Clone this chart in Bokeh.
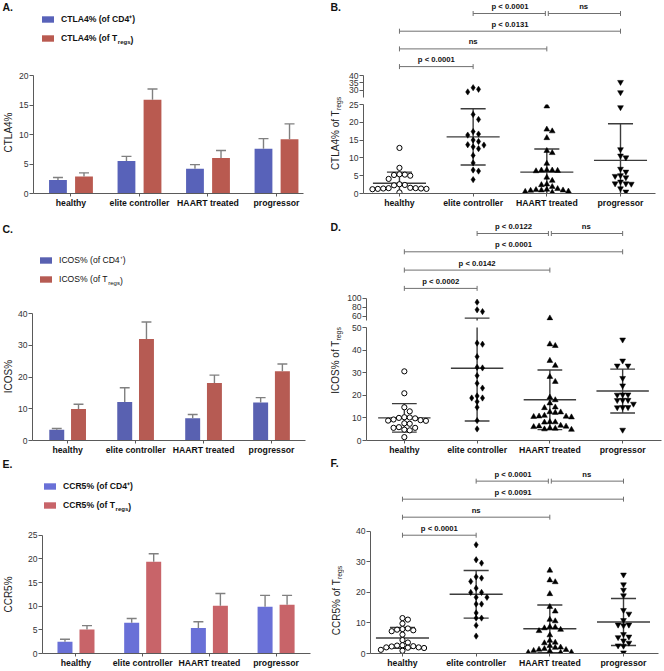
import math
from bokeh.plotting import figure
from bokeh.layouts import row, column
from bokeh.models import Range1d, FixedTicker, Legend, LegendItem, Label, ColumnDataSource
from bokeh.transform import dodge
from bokeh.core.properties import value
from bokeh.embed import file_html
from bokeh.resources import INLINE

FONT = "Liberation Sans"

groups = ["healthy", "elite controller", "HAART treated", "progressor"]

# ---------- Panel A: CTLA4 bars ----------
ctla4_cd4 = [2.3, 5.5, 4.2, 7.6]
ctla4_cd4_err = [0.4, 0.8, 0.7, 1.7]
ctla4_treg = [2.9, 15.9, 6.0, 9.2]
ctla4_treg_err = [0.6, 1.8, 1.3, 2.6]
ctla4_ticks = [0, 5, 10, 15, 20]

# ---------- Panel C: ICOS bars ----------
icos_cd4 = [3.4, 12.1, 7.0, 12.0]
icos_cd4_err = [0.4, 4.5, 1.2, 1.5]
icos_treg = [9.9, 32.0, 18.1, 21.8]
icos_treg_err = [1.5, 5.3, 2.5, 2.3]
icos_ticks = [0, 10, 20, 30, 40]

# ---------- Panel E: CCR5 bars ----------
ccr5_cd4 = [2.5, 6.5, 5.4, 9.9]
ccr5_cd4_err = [0.5, 0.9, 1.3, 2.4]
ccr5_treg = [5.1, 19.4, 10.1, 10.3]
ccr5_treg_err = [0.8, 1.7, 2.6, 2.0]
ccr5_ticks = [0, 5, 10, 15, 20, 25]

# ---------- Panel B: CTLA4% of Tregs, individual values ----------
b_healthy = [12.8, 7.2, 5.3, 5.0, 5.2, 5.4, 4.1, 2.6, 2.4, 2.3, 1.6, 1.4, 1.5,
             1.3, 1.4, 1.5, 1.2, 1.3, 0.3]
b_elite = [31.7, 30.6, 28.8, 22.2, 20.8, 17.4, 16.7, 16.4, 15.0, 14.6, 13.6, 13.1,
           13.7, 12.6, 10.7, 8.6, 6.6, 6.3, 3.9]
b_haart = [24.5, 18.0, 17.5, 15.6, 12.0, 11.4, 8.4, 6.6, 6.5, 6.4, 6.3, 6.5, 4.5, 3.6,
           2.6, 2.4, 1.9, 1.3, 1.1, 1.0, 0.9, 0.9, 0.8, 0.6, 0.5, 0.3]
b_prog = [35.5, 28.5, 24.2, 12.4, 10.6, 10.1, 6.9, 6.1, 5.1, 4.9, 4.5, 3.3, 2.8, 2.8,
          2.7, 1.4, 0.5]
b_mean = [2.9, 15.9, 6.0, 9.3]
b_sd = [3.1, 7.9, 6.5, 10.3]
b_ticks_low = [0, 5, 10, 15, 20, 25]
b_ticks_high = [30, 35, 40]
b_pvalues = ["p < 0.0001", "ns", "p < 0.0131", "ns", "p < 0.0001"]

# ---------- Panel D: ICOS% of Tregs ----------
d_healthy = [30.6, 20.9, 14.7, 12.9, 10.3, 10.2, 10.0, 9.8, 9.3, 9.0, 8.7, 8.8, 7.6,
             7.4, 5.9, 5.6, 5.6, 4.8, 4.5, 1.5]
d_elite = [91, 74, 70, 43.1, 42.6, 37.1, 32.4, 32.1, 28.7, 25.3, 23.2, 19.7, 18.8,
           18.8, 17.2, 14.7, 8.8, 5.1]
d_haart = [55, 42.6, 41.9, 35.3, 33.1, 28.2, 26.0, 19.1, 17.9, 16.5, 14.7, 14.4, 12.5,
           12.3, 12.6, 11.0, 10.3, 10.6, 10.5, 10.7, 8.1, 8.0, 8.2, 6.6, 6.3, 6.2, 6.0,
           5.5, 5.3, 5.0, 4.8]
d_prog = [44.6, 35.3, 33.1, 33.1, 27.6, 24.3, 20.3, 20.3, 20.2, 17.9, 17.9, 17.8, 16.2,
          14.7, 14.7, 14.6, 4.7]
d_mean = [10.0, 32.0, 18.0, 21.9]
d_sd = [6.3, 23.4, 13.2, 9.7]
d_ticks_low = [0, 10, 20, 30, 40, 50]
d_ticks_high = [60, 80, 100]
d_pvalues = ["p < 0.0122", "ns", "p < 0.0001", "p < 0.0142", "p < 0.0002"]

# ---------- Panel F: CCR5% of Tregs ----------
f_healthy = [11.6, 11.1, 9.8, 8.2, 8.0, 7.6, 7.3, 7.8, 6.2, 4.4, 3.6, 2.7, 2.6, 2.4,
             2.3, 2.0, 1.9, 1.8, 2.0, 1.2, 0.9]
f_elite = [35.6, 30.7, 29.6, 25.1, 24.7, 23.6, 21.4, 20.0, 20.0, 18.4, 18.4, 16.2, 16.2,
           13.3, 11.6, 11.6, 9.2, 5.7]
f_haart = [27.2, 24.0, 23.4, 19.5, 15.3, 13.8, 11.1, 10.6, 8.7, 8.6, 8.3, 7.8, 7.4, 6.0,
           4.2, 3.6, 3.4, 2.5, 2.0, 1.9, 1.5, 1.3, 1.2, 0.9, 0.8, 0.4, 0.3, 0.3]
f_prog = [25.8, 22.6, 20.8, 19.0, 14.2, 13.0, 10.9, 9.4, 9.4, 9.2, 6.3, 5.5, 5.3, 4.2,
          3.5, 2.6, 2.5, 0.3]
f_mean = [5.1, 19.4, 8.1, 10.3]
f_sd = [3.4, 7.8, 7.8, 7.7]
f_ticks = [0, 10, 20, 30, 40]
f_pvalues = ["p < 0.0001", "ns", "p < 0.0091", "ns", "p < 0.0001"]

# comparisons (group index pairs) and their bracket level (0 = top)
comparisons = [(1, 2), (2, 3), (0, 3), (0, 2), (0, 1)]
comparison_levels = [0, 0, 1, 2, 3]

# ---------- styles ----------
AXIS_COLOR = "#5a5a5a"
TICK_TEXT = "#333333"
ERR_COLOR = "#808080"
STAT_COLOR = "#3c3c3c"
BRACKET_COLOR = "#707070"
TICK_SIZE = 8.6
CAT_SIZE = 8.7
LEG_SIZE = 8.6

# Arial / Liberation Sans advance widths (per 1000 em)
W_REG = {'C': 722, 'T': 611, 'L': 556, 'A': 667, '4': 556, '%': 889, ' ': 278,
         'o': 556, 'f': 278, 'I': 278, 'O': 778, 'S': 667, 'R': 722, '5': 556,
         'r': 333, 'e': 556, 'g': 556, 's': 500, '(': 333, ')': 333}
W_BOLD = {'C': 722, 'T': 611, 'L': 611, 'A': 722, '4': 556, '%': 889, ' ': 278,
          'o': 611, 'f': 333, 'I': 278, 'O': 778, 'S': 667, 'R': 722, '5': 556,
          'r': 389, 'e': 556, 'g': 611, 's': 556, '(': 333, ')': 333}


def text_width(s, size, bold=False):
    tbl = W_BOLD if bold else W_REG
    return sum(tbl.get(ch, 556) for ch in s) * size / 1000.0


def new_fig(w, h, xr, yr, left, right, top, bottom, xaxis=True, yaxis=True):
    p = figure(width=w, height=h, x_range=xr, y_range=yr,
               min_border_left=left, min_border_right=right,
               min_border_top=top, min_border_bottom=bottom,
               x_axis_location="below" if xaxis else None,
               y_axis_location="left" if yaxis else None,
               output_backend="svg", toolbar_location=None)
    p.grid.visible = False
    p.outline_line_color = None
    return p


def style_axis(ax):
    ax.axis_line_color = AXIS_COLOR
    ax.axis_line_width = 1
    ax.major_tick_line_color = AXIS_COLOR
    ax.major_tick_in = 0
    ax.major_tick_out = 3
    ax.minor_tick_line_color = None
    ax.major_label_text_font = FONT
    ax.major_label_text_font_size = "%.1fpx" % TICK_SIZE
    ax.major_label_text_color = TICK_TEXT
    ax.major_label_standoff = 2


def cat_xaxis(p):
    ax = p.xaxis[0]
    style_axis(ax)
    ax.axis_label = None
    ax.ticker = FixedTicker(ticks=list(range(len(groups))), minor_ticks=[])
    ax.major_label_overrides = {i: g for i, g in enumerate(groups)}
    ax.major_label_text_font_style = "bold"
    ax.major_label_text_font_size = "%.1fpx" % CAT_SIZE
    ax.major_label_text_color = "#111111"
    ax.major_label_standoff = 1


def num_yaxis(ax, ticks, bounds):
    style_axis(ax)
    ax.major_tick_out = 4
    ax.major_label_standoff = 1
    ax.ticker = FixedTicker(ticks=ticks, minor_ticks=[])
    ax.bounds = bounds


def screen_label(text, x, y, size, bold=False, angle=0.0, align="left", color="#111111"):
    return Label(x=x, y=y, x_units="screen", y_units="screen", text=text, angle=angle,
                 text_font=FONT, text_font_size="%.1fpx" % size,
                 text_font_style="bold" if bold else "normal",
                 text_baseline="middle", text_align=align, text_color=color)


def label_fig(letter, main, sub, H, g, bb=0):
    """Narrow strip at the panel's left holding the panel letter and the y-axis title.
    bb = bottom border matching the neighbouring plot (frames are aligned in a row)."""
    lf = new_fig(14, H, Range1d(0, 1), Range1d(0, 1), 0, 0, 0, bb, xaxis=False, yaxis=False)
    fb = H - bb  # frame bottom measured from the top of the strip

    def ys(y_from_top):
        return fb - y_from_top

    lf.add_layout(screen_label(letter, g["let_x"], ys(g["let_y"]), 10.5, bold=True))
    ms, ss = 10.0, 6.8
    wm = text_width(main, ms)
    wsub = text_width(sub, ss) if sub else 0.0
    ystart = ys(g["lab_cy"] + (wm + wsub) / 2.0)
    lf.add_layout(screen_label(main, g["lab_x"], ystart, ms, angle=math.pi / 2, color="#222222"))
    if sub:
        lf.add_layout(screen_label(sub, g["lab_x"] + 3, ystart + wm, ss, angle=math.pi / 2,
                                   color="#222222"))
    return lf


def bar_panel(letter, ylabel, marker_name, cd4, cd4_err, treg, treg_err, ticks, colors, g):
    W, H = g["W"], g["H"]
    fl, fr, y0 = g["left"], g["right"], g["y0"]
    ppu = (y0 - g["ytop"]) / ticks[-1]
    ppx = (fr - fl) / (g["x1"] - g["x0"])
    p = new_fig(W, H, Range1d(g["x0"], g["x1"]), Range1d(0, y0 / ppu), fl, W - fr, 0, H - y0)
    src = ColumnDataSource(dict(
        x=list(range(len(groups))), cd4=cd4, treg=treg,
        cd4_hi=[m + e for m, e in zip(cd4, cd4_err)],
        treg_hi=[m + e for m, e in zip(treg, treg_err)]))
    off, bw = g["off"], g["bw"]
    r1 = p.vbar(x=dodge("x", -off), top="cd4", bottom=0, width=bw, source=src,
                fill_color=colors[0], line_color=None)
    r2 = p.vbar(x=dodge("x", off), top="treg", bottom=0, width=bw, source=src,
                fill_color=colors[1], line_color=None)
    cap = 5.0 / ppx
    for field, o in (("cd4", -off), ("treg", off)):
        p.segment(x0=dodge("x", o), x1=dodge("x", o), y0=field, y1=field + "_hi",
                  source=src, line_color=ERR_COLOR, line_width=1.4)
        p.segment(x0=dodge("x", o - cap), x1=dodge("x", o + cap), y0=field + "_hi",
                  y1=field + "_hi", source=src, line_color=ERR_COLOR, line_width=1.4)
    cat_xaxis(p)
    num_yaxis(p.yaxis[0], ticks, (0, ticks[-1]))

    bold = g.get("leg_bold", True)
    lab1 = marker_name + " (of CD4⁺)"
    lab2 = marker_name + " (of T"
    gw, gh, lst, sp = 15, 8, 6, 8
    leg = Legend(items=[LegendItem(label=lab1, renderers=[r1]),
                        LegendItem(label=lab2, renderers=[r2])],
                 location=(g["leg_x"], g["leg_y"]), orientation="vertical",
                 border_line_color=None, background_fill_alpha=0, padding=0, margin=0,
                 spacing=sp, glyph_width=gw, glyph_height=gh, label_height=gh,
                 label_standoff=lst, label_text_font=FONT,
                 label_text_font_size="%.1fpx" % LEG_SIZE,
                 label_text_font_style="bold" if bold else "normal",
                 label_text_color="#111111")
    p.add_layout(leg)
    # subscript "regs" and closing parenthesis for the Treg entry
    xs = g["leg_x"] + gw + lst + text_width(lab2, LEG_SIZE, bold)
    yc = g["leg_y"] + gh / 2.0
    p.add_layout(screen_label("regs", xs, yc - 2.3, 6.0, bold=bold))
    p.add_layout(screen_label(")", xs + text_width("regs", 6.0, bold), yc, LEG_SIZE, bold=bold))
    return row(label_fig(letter, ylabel, None, H, g, bb=H - y0), p)


MARKERS = [("circle", "white", 5.2), ("diamond", "black", 6.3),
           ("triangle", "black", 5.8), ("inverted_triangle", "black", 5.8)]


def swarm(vals, ypx, ppx, step=5.4, diam=5.2):
    placed = []
    offs = [0.0] * len(vals)
    for i in sorted(range(len(vals)), key=lambda k: -vals[k]):
        y = ypx(vals[i])
        c = 0.0
        for m in range(60):
            c = ((m + 1) // 2) * step * (1 if m % 2 else -1) if m else 0.0
            if all((c - px) ** 2 + (y - py) ** 2 >= diam ** 2 for px, py in placed):
                break
        placed.append((c, y))
        offs[i] = c / ppx
    return offs


def draw_stats_points(p, series, offsets, means, sds, keep):
    MW, CW = 0.36, 0.17
    st = ColumnDataSource(dict(x=list(range(len(groups))), mean=means,
                               hi=[m + s for m, s in zip(means, sds)],
                               lo=[m - s for m, s in zip(means, sds)]))
    p.segment(x0="x", x1="x", y0="lo", y1="hi", source=st, line_color=STAT_COLOR, line_width=1.4)
    p.segment(x0=dodge("x", -MW), x1=dodge("x", MW), y0="mean", y1="mean", source=st,
              line_color=STAT_COLOR, line_width=1.4)
    for f in ("hi", "lo"):
        p.segment(x0=dodge("x", -CW), x1=dodge("x", CW), y0=f, y1=f, source=st,
                  line_color=STAT_COLOR, line_width=1.4)
    for i, vals in enumerate(series):
        xs = [i + o for o, v in zip(offsets[i], vals) if keep(v)]
        ys = [v for v in vals if keep(v)]
        mk, fill, size = MARKERS[i]
        p.scatter(x=xs, y=ys, marker=mk, size=size, fill_color=fill,
                  line_color="black", line_width=1.0 if i == 0 else 0.5)


def draw_brackets(p, frame_h, pvalues, top, pitch):
    p.extra_y_ranges = {"sig": Range1d(frame_h, 0)}
    x0s, x1s, ys, xm = [], [], [], []
    for (a, b), lv in zip(comparisons, comparison_levels):
        x0s.append(a + (0.02 if lv == 0 and a == 2 else 0))
        x1s.append(b - (0.02 if lv == 0 and b == 2 else 0))
        ys.append(top + lv * pitch)
        xm.append((a + b) / 2.0)
    src = ColumnDataSource(dict(x0=x0s, x1=x1s, y=ys, yt=[y - 2.5 for y in ys],
                                yb=[y + 2.5 for y in ys], ty=[y - 2.5 for y in ys],
                                xm=xm, label=pvalues))
    p.segment(x0="x0", x1="x1", y0="y", y1="y", source=src, y_range_name="sig",
              line_color=BRACKET_COLOR, line_width=1)
    for c in ("x0", "x1"):
        p.segment(x0=c, x1=c, y0="yt", y1="yb", source=src, y_range_name="sig",
                  line_color=BRACKET_COLOR, line_width=1)
    p.text(x="xm", y="ty", text="label", source=src, y_range_name="sig",
           text_font=value(FONT), text_font_size="7.7px", text_font_style="bold",
           text_align="center", text_baseline="bottom", text_color="#111111")


def scatter_panel(letter, main, series, means, sds, pvalues, g):
    H, W = g["H"], g["W"]
    xr = Range1d(g["x0"], g["x1"])
    ppx = (g["right"] - g["left"]) / (g["x1"] - g["x0"])
    if "brk" in g:
        lf = label_fig(letter, main, "regs", H, g, bb=0)
        brk = g["brk"]
        lo_h = g["y0"] - g["lo_top"]
        ppu_lo = lo_h / g["ticks_low"][-1]
        up_h = g["up_bottom"]
        ppu_up = (up_h - g["hi_px"]) / (g["ticks_high"][-1] - brk)

        def ypx(v):
            return v * ppu_lo if v <= brk else brk * ppu_lo + 7 + (v - brk) * ppu_up

        offsets = [swarm(vals, ypx, ppx) for vals in series]
        up = new_fig(W, g["Hup"], xr, Range1d(brk, brk + up_h / ppu_up), g["left"],
                     W - g["right"], 0, g["Hup"] - up_h, xaxis=False)
        lo = new_fig(W, H - g["Hup"], xr, Range1d(0, g["ticks_low"][-1]), g["left"],
                     W - g["right"], g["lo_top"] - g["Hup"], H - g["y0"])
        draw_stats_points(up, series, offsets, means, sds, lambda v: v > brk)
        draw_stats_points(lo, series, offsets, means, sds, lambda v: v <= brk)
        num_yaxis(up.yaxis[0], g["ticks_high"], (brk, g["ticks_high"][-1]))
        num_yaxis(lo.yaxis[0], g["ticks_low"], (0, g["ticks_low"][-1]))
        cat_xaxis(lo)
        draw_brackets(up, up_h, pvalues, g["br_top"], g["br_pitch"])
        return row(lf, column(up, lo))
    fh = g["y0"]
    lf = label_fig(letter, main, "regs", H, g, bb=H - fh)
    ppu = (fh - g["top_px"]) / g["ticks_low"][-1]
    offsets = [swarm(vals, lambda v: v * ppu, ppx) for vals in series]
    p = new_fig(W, H, xr, Range1d(0, fh / ppu), g["left"], W - g["right"], 0, H - fh)
    draw_stats_points(p, series, offsets, means, sds, lambda v: True)
    num_yaxis(p.yaxis[0], g["ticks_low"], (0, g["ticks_low"][-1]))
    cat_xaxis(p)
    draw_brackets(p, fh, pvalues, g["br_top"], g["br_pitch"])
    return row(lf, p)


# ---------- layout geometry (pixels; each panel = 14px title strip + plot) ----------
GA = dict(W=316, H=212, left=19, right=289, y0=193, ytop=75, x0=-0.547, x1=3.394,
          bw=0.26, off=0.19, leg_x=7, leg_y=150, let_x=2, let_y=6, lab_x=8, lab_cy=132)
GC = dict(W=316, H=245, left=15, right=291, y0=228, ytop=101, x0=-0.517, x1=3.50,
          bw=0.22, off=0.16, leg_x=6, leg_y=156, let_x=2, let_y=16, lab_x=8, lab_cy=164,
          leg_bold=False)
GE = dict(W=316, H=213, left=28, right=296, y0=199, ytop=79, x0=-0.502, x1=3.516,
          bw=0.225, off=0.165, leg_x=0, leg_y=143, let_x=2, let_y=9, lab_x=8, lab_cy=140)
GB = dict(W=318, H=212, left=19, right=311, x0=-0.488, x1=3.475, y0=193, lo_top=104,
          brk=25, up_bottom=97, hi_px=75, Hup=99, ticks_low=b_ticks_low,
          ticks_high=b_ticks_high, br_top=13, br_pitch=17.7, let_x=0, let_y=6,
          lab_x=5, lab_cy=133)
GD = dict(W=318, H=245, left=22, right=317, x0=-0.52, x1=3.534, y0=228, lo_top=115,
          brk=50, up_bottom=108, hi_px=85.7, Hup=110, ticks_low=d_ticks_low,
          ticks_high=d_ticks_high, br_top=21, br_pitch=18.3, let_x=0, let_y=14,
          lab_x=5, lab_cy=148)
GF = dict(W=318, H=213, left=26, right=314, x0=-0.434, x1=3.475, y0=199, top_px=75,
          ticks_low=f_ticks, br_top=24, br_pitch=18.3, let_x=0, let_y=8, lab_x=6,
          lab_cy=146)

pA = bar_panel("A.", "CTLA4%", "CTLA4%", ctla4_cd4, ctla4_cd4_err, ctla4_treg,
               ctla4_treg_err, ctla4_ticks, ("#5862b9", "#b95a50"), GA)
pC = bar_panel("C.", "ICOS%", "ICOS%", icos_cd4, icos_cd4_err, icos_treg,
               icos_treg_err, icos_ticks, ("#5961b1", "#b65b53"), GC)
pE = bar_panel("E.", "CCR5%", "CCR5%", ccr5_cd4, ccr5_cd4_err, ccr5_treg,
               ccr5_treg_err, ccr5_ticks, ("#6970d7", "#c86469"), GE)
pB = scatter_panel("B.", "CTLA4% of T", [b_healthy, b_elite, b_haart, b_prog],
                   b_mean, b_sd, b_pvalues, GB)
pD = scatter_panel("D.", "ICOS% of T", [d_healthy, d_elite, d_haart, d_prog],
                   d_mean, d_sd, d_pvalues, GD)
pF = scatter_panel("F.", "CCR5% of T", [f_healthy, f_elite, f_haart, f_prog],
                   f_mean, f_sd, f_pvalues, GF)

layout = column(row(pA, pB), row(pC, pD), row(pE, pF))
open("out.html", "w").write(file_html(layout, INLINE, "Figure"))
